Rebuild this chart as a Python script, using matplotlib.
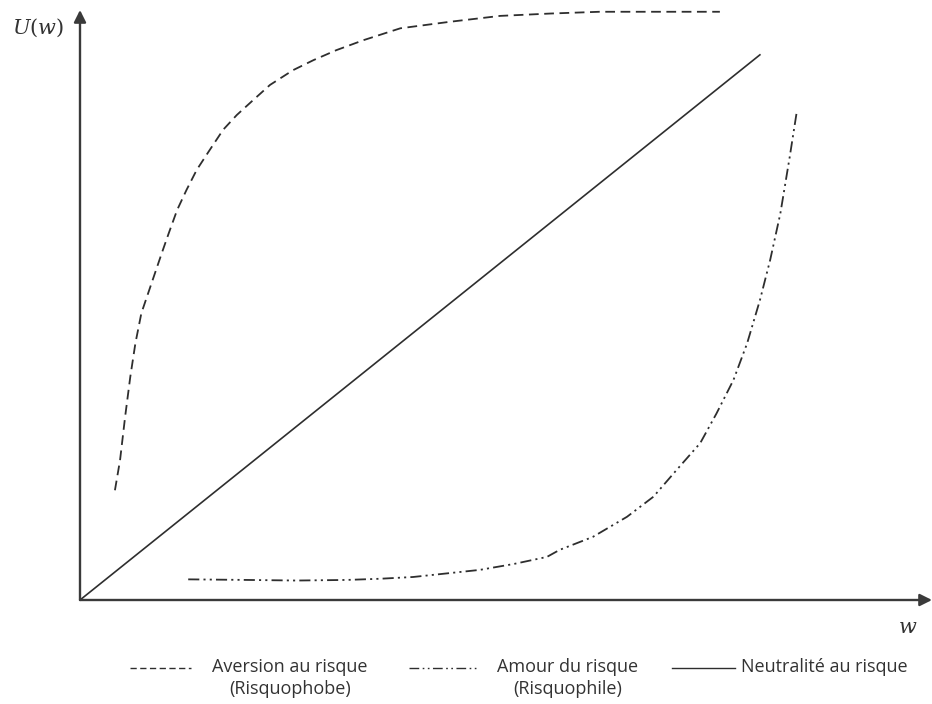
import matplotlib.pyplot as plt
from matplotlib.lines import Line2D

plt.rcParams['lines.scale_dashes'] = False
plt.rcParams['mathtext.fontset'] = 'dejavuserif'

# wealth (x) / utility (y), both on a 0-100 scale
w_averse = [4.1, 4.7, 5.3, 5.9, 6.5, 7.2, 8.0, 8.8, 9.6, 10.4, 11.4, 12.5, 13.7, 15.1,
            16.8, 18.4, 20.3, 22.3, 25.0, 27.4, 30.1, 33.3, 37.6, 43.4, 49.3, 55.2, 61.0, 75.1]
u_averse = [18.6, 23.7, 31.1, 37.8, 43.5, 48.6, 52.0, 55.4, 58.8, 62.1, 66.1, 69.5, 72.9, 76.0,
            79.7, 82.2, 84.7, 87.3, 89.8, 91.5, 93.2, 94.9, 96.9, 98.0, 99.0, 99.4, 99.7, 99.7]

w_lover = [12.7, 19.6, 25.4, 31.3, 35.2, 39.1, 43.0, 46.9, 50.9, 54.8, 56.3, 60.2, 64.2,
           67.3, 70.0, 72.8, 74.7, 76.7, 78.3, 79.8, 81.0, 82.2, 83.3, 84.1]
u_lover = [3.5, 3.4, 3.3, 3.4, 3.6, 3.9, 4.5, 5.1, 6.1, 7.3, 8.5, 10.7, 14.1,
           17.5, 22.0, 26.6, 31.6, 37.3, 43.5, 50.8, 57.6, 65.5, 75.1, 82.5]

w_neutral = [0.0, 79.8]
u_neutral = [0.0, 92.4]

labels = [["Aversion au risque", "(Risquophobe)"],
          ["Amour du risque", "(Risquophile)"],
          ["Neutralité au risque"]]

W, H = 932, 704
fig = plt.figure(figsize=(W / 100, H / 100), dpi=100)
ax = fig.add_axes([80 / W, (H - 600) / H, 852 / W, 590 / H])
ax.set_xlim(0, 100)
ax.set_ylim(0, 100)
ax.axis('off')

line_col = '#2e2e2e'
dash_style = (0, (7, 4))
dashdot_style = (0, (8, 3, 1.5, 3, 1.5, 3))

ax.plot(w_averse, u_averse, color=line_col, lw=1.3, linestyle=dash_style)
ax.plot(w_lover, u_lover, color=line_col, lw=1.3, linestyle=dashdot_style)
ax.plot(w_neutral, u_neutral, color=line_col, lw=1.2)

# axes with arrow heads
axis_col = '#3a3a3a'
for tip in [(100, 0), (0, 100)]:
    ax.annotate('', xy=tip, xytext=(0, 0),
                arrowprops=dict(arrowstyle='-|>', color=axis_col, lw=1.7,
                                mutation_scale=18, shrinkA=0, shrinkB=0),
                annotation_clip=False)

fig.text(38 / W, 1 - 28 / H, r'$U(w)$', fontsize=15, ha='center', va='center', color='#333333')
fig.text(908 / W, 1 - 627 / H, r'$w$', fontsize=15, ha='center', va='center', color='#333333')

# legend drawn by hand below the plot
leg_y = 1 - 668 / H
fig.add_artist(Line2D([130 / W, 191 / W], [leg_y, leg_y], transform=fig.transFigure,
                      color=line_col, lw=1.0, linestyle=(0, (4.5, 2.5))))
fig.add_artist(Line2D([409 / W, 478 / W], [leg_y, leg_y], transform=fig.transFigure,
                      color=line_col, lw=1.0, linestyle=(0, (7, 2.5, 1.2, 2.5, 1.2, 2.5))))
fig.add_artist(Line2D([672 / W, 735 / W], [leg_y, leg_y], transform=fig.transFigure,
                      color=line_col, lw=1.0))

txt_kw = dict(fontsize=13, family='Open Sans', color='#333333', va='center')
for cx, lines in zip([290, 568], labels[:2]):
    fig.text(cx / W, 1 - 667 / H, lines[0], ha='center', **txt_kw)
    fig.text(cx / W, 1 - 689 / H, lines[1], ha='center', **txt_kw)
fig.text(741 / W, 1 - 667 / H, labels[2][0], ha='left', **txt_kw)

fig.savefig('out.png', dpi=100)
